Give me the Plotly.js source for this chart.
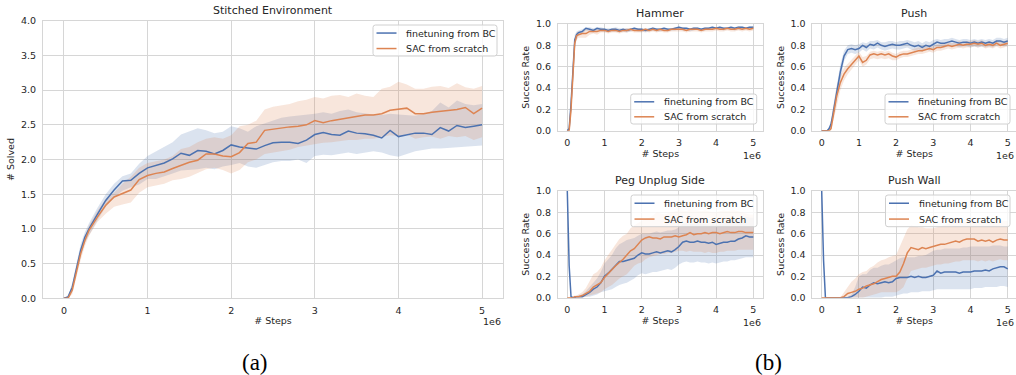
<!DOCTYPE html>
<html>
<head>
<meta charset="utf-8">
<script src="https://cdn.plot.ly/plotly-3.0.1.min.js"></script>
<style>html,body{margin:0;padding:0;background:#fff;} #chart{width:1016px;height:375px;}</style>
</head>
<body>
<div id="chart"></div>
<script>
// ---- data (steps in units of 1e6) ----
const steps = [0,0.05,0.1,0.15,0.2,0.25,0.3,0.4,0.5,0.6,0.7,0.8,0.9,1.0,1.1,1.2,1.3,1.4,1.5,1.6,1.7,1.8,1.9,2.0,2.1,2.2,2.3,2.4,2.5,2.6,2.7,2.8,2.9,3.0,3.1,3.2,3.3,3.4,3.5,3.6,3.7,3.8,3.9,4.0,4.1,4.2,4.3,4.4,4.5,4.6,4.7,4.8,4.9,5.0];
const seriesNames = ["finetuning from BC", "SAC from scratch"];

// Stitched Environment (# Solved)
const stitchedBC = [0,0.02,0.16,0.45,0.69,0.88,1.00,1.21,1.41,1.56,1.69,1.70,1.80,1.88,1.92,1.95,2.01,2.09,2.06,2.13,2.12,2.08,2.13,2.21,2.18,2.17,2.15,2.20,2.24,2.25,2.25,2.23,2.28,2.36,2.39,2.36,2.35,2.41,2.38,2.37,2.35,2.31,2.42,2.33,2.36,2.38,2.38,2.36,2.46,2.41,2.49,2.46,2.48,2.50];
const stitchedBCUp = [0,0.04,0.22,0.52,0.78,0.95,1.08,1.30,1.50,1.65,1.76,1.80,1.94,2.05,2.12,2.18,2.25,2.36,2.40,2.45,2.42,2.38,2.40,2.48,2.45,2.40,2.48,2.52,2.56,2.60,2.62,2.63,2.64,2.66,2.68,2.66,2.70,2.72,2.68,2.66,2.65,2.64,2.66,2.65,2.64,2.63,2.66,2.70,2.82,2.75,2.85,2.80,2.78,2.80];
const stitchedBCLo = [0,0,0.10,0.38,0.60,0.80,0.92,1.12,1.32,1.45,1.55,1.60,1.64,1.72,1.72,1.76,1.80,1.84,1.85,1.86,1.88,1.86,1.90,1.92,1.95,1.90,1.88,1.92,1.96,1.98,1.98,2.00,1.95,2.05,2.07,2.06,2.08,2.10,2.08,2.10,2.12,2.10,2.06,2.04,2.08,2.12,2.14,2.16,2.16,2.17,2.18,2.18,2.19,2.20];
const stitchedSAC = [0,0,0.12,0.40,0.64,0.83,0.98,1.17,1.34,1.46,1.51,1.56,1.71,1.77,1.80,1.82,1.87,1.92,1.96,1.99,2.08,2.08,2.05,2.04,2.10,2.23,2.25,2.42,2.44,2.45,2.47,2.48,2.50,2.56,2.53,2.56,2.58,2.60,2.62,2.64,2.64,2.66,2.71,2.72,2.74,2.66,2.66,2.68,2.69,2.70,2.72,2.75,2.66,2.74];
const stitchedSACUp = [0,0.03,0.18,0.48,0.72,0.90,1.05,1.26,1.43,1.52,1.65,1.75,1.88,1.95,1.98,2.00,2.05,2.15,2.18,2.25,2.30,2.32,2.30,2.35,2.48,2.50,2.56,2.72,2.76,2.78,2.80,2.84,2.86,2.90,2.88,2.92,2.93,2.90,2.95,2.92,2.90,3.02,3.05,3.12,3.08,3.02,3.02,3.05,3.06,3.03,3.10,3.04,3.02,3.06];
const stitchedSACLo = [0,0,0.06,0.32,0.55,0.75,0.90,1.10,1.22,1.32,1.35,1.38,1.52,1.60,1.62,1.65,1.70,1.72,1.75,1.80,1.86,1.88,1.85,1.80,1.85,1.96,2.00,2.08,2.10,2.12,2.14,2.18,2.20,2.22,2.24,2.25,2.26,2.28,2.28,2.30,2.30,2.33,2.35,2.34,2.36,2.30,2.32,2.33,2.30,2.34,2.32,2.34,2.28,2.32];

// Hammer (success rate)
const hammerBC = [0,0.02,0.25,0.60,0.85,0.90,0.92,0.93,0.96,0.95,0.94,0.96,0.95,0.95,0.94,0.95,0.95,0.94,0.95,0.94,0.95,0.96,0.95,0.95,0.94,0.95,0.96,0.95,0.95,0.96,0.95,0.95,0.96,0.97,0.96,0.96,0.95,0.96,0.96,0.95,0.96,0.96,0.97,0.96,0.97,0.96,0.96,0.97,0.96,0.97,0.97,0.96,0.97,0.97];
const hammerBCUp = [0,0.04,0.32,0.68,0.90,0.93,0.94,0.95,0.97,0.97,0.96,0.97,0.97,0.96,0.96,0.96,0.97,0.96,0.96,0.96,0.96,0.97,0.96,0.96,0.96,0.96,0.97,0.96,0.96,0.97,0.96,0.96,0.97,0.98,0.97,0.97,0.96,0.97,0.97,0.96,0.97,0.97,0.98,0.97,0.98,0.97,0.97,0.98,0.97,0.98,0.98,0.97,0.98,0.98];
const hammerBCLo = [0,0,0.18,0.52,0.80,0.86,0.89,0.91,0.94,0.93,0.92,0.94,0.93,0.93,0.92,0.93,0.93,0.92,0.93,0.92,0.93,0.94,0.93,0.93,0.92,0.93,0.94,0.93,0.93,0.94,0.93,0.94,0.94,0.95,0.94,0.94,0.93,0.94,0.95,0.94,0.94,0.95,0.95,0.95,0.95,0.94,0.95,0.95,0.94,0.95,0.95,0.95,0.95,0.95];
const hammerSAC = [0,0,0.20,0.55,0.82,0.89,0.90,0.91,0.91,0.93,0.93,0.93,0.94,0.94,0.93,0.94,0.94,0.93,0.94,0.94,0.95,0.94,0.94,0.94,0.95,0.94,0.95,0.94,0.95,0.94,0.94,0.95,0.95,0.95,0.95,0.94,0.95,0.95,0.95,0.94,0.95,0.95,0.95,0.96,0.95,0.95,0.96,0.95,0.95,0.96,0.95,0.96,0.95,0.96];
const hammerSACUp = [0,0.02,0.28,0.62,0.86,0.92,0.93,0.94,0.95,0.95,0.95,0.95,0.96,0.95,0.95,0.95,0.96,0.95,0.95,0.96,0.96,0.95,0.96,0.95,0.96,0.95,0.96,0.95,0.96,0.95,0.95,0.96,0.96,0.96,0.96,0.95,0.96,0.96,0.96,0.95,0.96,0.96,0.96,0.97,0.96,0.96,0.97,0.96,0.96,0.97,0.96,0.97,0.96,0.97];
const hammerSACLo = [0,0,0.12,0.48,0.78,0.85,0.87,0.87,0.87,0.90,0.91,0.90,0.92,0.92,0.91,0.92,0.92,0.91,0.92,0.92,0.93,0.92,0.92,0.92,0.93,0.92,0.93,0.92,0.93,0.92,0.92,0.93,0.93,0.93,0.93,0.92,0.93,0.93,0.93,0.92,0.93,0.93,0.93,0.94,0.93,0.93,0.94,0.93,0.93,0.94,0.93,0.94,0.93,0.94];

// Push
const pushBC = [0,0,0,0,0.02,0.06,0.15,0.35,0.55,0.70,0.76,0.77,0.76,0.77,0.80,0.78,0.81,0.80,0.82,0.80,0.79,0.80,0.81,0.80,0.80,0.81,0.82,0.80,0.79,0.80,0.78,0.80,0.79,0.81,0.83,0.82,0.82,0.83,0.84,0.83,0.82,0.83,0.83,0.82,0.83,0.82,0.83,0.82,0.83,0.82,0.84,0.84,0.83,0.84];
const pushBCUp = [0,0,0,0.01,0.04,0.10,0.20,0.42,0.62,0.75,0.80,0.81,0.80,0.81,0.83,0.82,0.84,0.84,0.85,0.83,0.83,0.84,0.84,0.83,0.84,0.84,0.85,0.84,0.83,0.84,0.82,0.84,0.83,0.85,0.86,0.85,0.86,0.86,0.87,0.86,0.85,0.86,0.86,0.85,0.86,0.85,0.86,0.85,0.86,0.85,0.87,0.87,0.86,0.87];
const pushBCLo = [0,0,0,0,0.01,0.03,0.10,0.28,0.48,0.65,0.72,0.73,0.72,0.73,0.76,0.74,0.77,0.76,0.78,0.76,0.75,0.76,0.77,0.76,0.76,0.77,0.78,0.76,0.75,0.76,0.74,0.76,0.75,0.77,0.79,0.78,0.78,0.79,0.80,0.79,0.78,0.79,0.79,0.78,0.79,0.78,0.79,0.78,0.79,0.78,0.80,0.80,0.79,0.80];
const pushSAC = [0,0,0,0,0,0.02,0.12,0.32,0.45,0.53,0.58,0.62,0.67,0.70,0.64,0.66,0.71,0.72,0.71,0.72,0.71,0.72,0.70,0.69,0.71,0.72,0.72,0.73,0.74,0.75,0.75,0.76,0.77,0.76,0.78,0.78,0.79,0.80,0.79,0.80,0.81,0.80,0.81,0.81,0.82,0.81,0.82,0.80,0.81,0.80,0.82,0.80,0.81,0.82];
const pushSACUp = [0,0,0,0.01,0.02,0.06,0.20,0.42,0.52,0.59,0.63,0.67,0.71,0.74,0.69,0.70,0.74,0.75,0.74,0.75,0.74,0.75,0.73,0.72,0.74,0.75,0.75,0.76,0.77,0.78,0.78,0.79,0.80,0.79,0.81,0.81,0.82,0.83,0.82,0.83,0.84,0.83,0.84,0.84,0.85,0.84,0.85,0.83,0.84,0.83,0.85,0.83,0.84,0.85];
const pushSACLo = [0,0,0,0,0,0,0.06,0.22,0.38,0.47,0.53,0.57,0.62,0.66,0.60,0.62,0.67,0.68,0.67,0.68,0.67,0.68,0.66,0.66,0.68,0.69,0.69,0.70,0.71,0.72,0.72,0.73,0.74,0.73,0.75,0.75,0.76,0.77,0.76,0.77,0.78,0.77,0.78,0.78,0.79,0.78,0.79,0.77,0.78,0.77,0.79,0.77,0.78,0.79];

// Peg Unplug Side
const pegBC = [1.0,0.30,0.01,0,0,0.01,0.01,0.01,0.03,0.05,0.08,0.10,0.14,0.20,0.23,0.27,0.31,0.34,0.34,0.35,0.36,0.37,0.40,0.42,0.41,0.41,0.42,0.43,0.42,0.43,0.44,0.43,0.45,0.48,0.52,0.53,0.52,0.52,0.53,0.52,0.52,0.51,0.52,0.50,0.51,0.52,0.52,0.53,0.53,0.55,0.56,0.58,0.57,0.57];
const pegBCUp = [1.0,0.30,0.02,0.01,0.01,0.02,0.02,0.03,0.06,0.10,0.14,0.18,0.24,0.32,0.36,0.40,0.46,0.50,0.52,0.54,0.55,0.56,0.58,0.60,0.60,0.60,0.61,0.62,0.61,0.62,0.63,0.63,0.64,0.66,0.69,0.70,0.69,0.69,0.70,0.69,0.69,0.68,0.69,0.68,0.69,0.70,0.70,0.71,0.72,0.73,0.74,0.76,0.75,0.75];
const pegBCLo = [1.0,0.30,0,0,0,0,0,0,0.01,0.01,0.02,0.03,0.05,0.06,0.07,0.08,0.10,0.12,0.13,0.14,0.16,0.18,0.21,0.23,0.22,0.23,0.24,0.24,0.25,0.26,0.27,0.26,0.28,0.31,0.33,0.34,0.33,0.33,0.34,0.33,0.33,0.32,0.33,0.32,0.33,0.34,0.34,0.35,0.35,0.36,0.37,0.38,0.38,0.38];
const pegSAC = [0,0,0,0,0.01,0.01,0.01,0.02,0.04,0.06,0.10,0.12,0.14,0.19,0.23,0.26,0.30,0.33,0.36,0.40,0.44,0.46,0.50,0.54,0.56,0.57,0.56,0.56,0.55,0.57,0.57,0.57,0.58,0.57,0.58,0.59,0.61,0.59,0.60,0.60,0.61,0.60,0.61,0.61,0.60,0.61,0.62,0.61,0.61,0.62,0.62,0.61,0.61,0.61];
const pegSACUp = [0,0,0,0.01,0.02,0.02,0.03,0.05,0.09,0.15,0.22,0.24,0.28,0.35,0.40,0.45,0.50,0.55,0.58,0.60,0.65,0.68,0.70,0.72,0.74,0.75,0.77,0.80,0.79,0.78,0.79,0.80,0.81,0.82,0.82,0.81,0.83,0.82,0.82,0.81,0.82,0.81,0.80,0.80,0.81,0.82,0.81,0.82,0.82,0.81,0.80,0.79,0.78,0.78];
const pegSACLo = [0,0,0,0,0,0,0,0,0.01,0.02,0.03,0.04,0.05,0.08,0.10,0.12,0.15,0.18,0.20,0.22,0.26,0.30,0.32,0.33,0.36,0.38,0.39,0.40,0.41,0.41,0.42,0.42,0.43,0.44,0.44,0.43,0.44,0.43,0.43,0.43,0.42,0.43,0.42,0.42,0.43,0.43,0.44,0.44,0.44,0.45,0.45,0.45,0.45,0.45];

// Push Wall
const wallBC = [1.0,0.35,0,0,0,0,0,0,0,0,0,0.01,0.03,0.06,0.10,0.09,0.12,0.14,0.13,0.14,0.15,0.14,0.15,0.18,0.19,0.19,0.19,0.20,0.19,0.20,0.19,0.19,0.20,0.21,0.25,0.23,0.24,0.24,0.24,0.24,0.23,0.24,0.24,0.24,0.25,0.25,0.25,0.26,0.25,0.27,0.28,0.29,0.29,0.27];
const wallBCUp = [1.0,0.35,0,0,0,0,0,0,0,0,0.01,0.03,0.10,0.20,0.22,0.22,0.26,0.28,0.28,0.30,0.31,0.31,0.33,0.35,0.37,0.38,0.38,0.38,0.38,0.39,0.39,0.40,0.42,0.44,0.45,0.45,0.46,0.46,0.46,0.46,0.46,0.47,0.47,0.48,0.48,0.48,0.48,0.48,0.48,0.49,0.49,0.49,0.48,0.48];
const wallBCLo = [1.0,0.35,0,0,0,0,0,0,0,0,0,0,0,0,0,0,0,0,0,0,0.01,0.01,0.01,0.02,0.03,0.04,0.04,0.05,0.05,0.05,0.06,0.06,0.06,0.07,0.08,0.08,0.08,0.08,0.08,0.08,0.08,0.08,0.08,0.08,0.09,0.09,0.09,0.10,0.10,0.10,0.10,0.11,0.11,0.10];
const wallSAC = [0,0,0,0,0,0,0,0,0,0.01,0.04,0.05,0.06,0.08,0.09,0.11,0.12,0.13,0.15,0.17,0.18,0.19,0.20,0.20,0.24,0.32,0.42,0.47,0.46,0.45,0.47,0.46,0.47,0.48,0.49,0.50,0.50,0.51,0.52,0.53,0.52,0.54,0.55,0.55,0.55,0.53,0.54,0.53,0.54,0.52,0.54,0.55,0.54,0.54];
const wallSACUp = [0,0,0,0,0,0,0,0,0,0.05,0.10,0.15,0.18,0.22,0.24,0.25,0.28,0.30,0.33,0.35,0.36,0.38,0.39,0.40,0.48,0.56,0.64,0.68,0.67,0.66,0.66,0.65,0.65,0.65,0.66,0.67,0.68,0.69,0.70,0.70,0.71,0.71,0.72,0.72,0.72,0.71,0.72,0.70,0.71,0.70,0.72,0.73,0.72,0.72];
const wallSACLo = [0,0,0,0,0,0,0,0,0,0,0,0,0,0,0,0.01,0.02,0.03,0.04,0.05,0.05,0.05,0.05,0.05,0.07,0.10,0.18,0.25,0.26,0.27,0.28,0.28,0.29,0.30,0.31,0.31,0.32,0.32,0.33,0.34,0.34,0.35,0.35,0.35,0.35,0.34,0.35,0.34,0.35,0.34,0.35,0.36,0.35,0.35];

const panelTitles = ["Stitched Environment", "Hammer", "Push", "Peg Unplug Side", "Push Wall"];
const xTickLabels = ["0","1","2","3","4","5"];
const xTickVals = [0,1,2,3,4,5];

// ---- styling / layout ----
const FONT = "DejaVu Sans";
const TXT = "#262626";
const BLUE = "#4C72B0", ORANGE = "#DD8452";
const BLUE_F = "rgba(76,114,176,0.2)", ORANGE_F = "rgba(221,132,82,0.2)";
const GRID = "#d6d6d6";
const W = 1016, H = 375;
const lineColors = [BLUE, ORANGE];

const panels = [
  {sfx:"",  bc:[stitchedBC,stitchedBCUp,stitchedBCLo], sac:[stitchedSAC,stitchedSACUp,stitchedSACLo]},
  {sfx:"2", bc:[hammerBC,hammerBCUp,hammerBCLo], sac:[hammerSAC,hammerSACUp,hammerSACLo]},
  {sfx:"3", bc:[pushBC,pushBCUp,pushBCLo], sac:[pushSAC,pushSACUp,pushSACLo]},
  {sfx:"4", bc:[pegBC,pegBCUp,pegBCLo], sac:[pegSAC,pegSACUp,pegSACLo]},
  {sfx:"5", bc:[wallBC,wallBCUp,wallBCLo], sac:[wallSAC,wallSACUp,wallSACLo]},
];

// pixel boxes of plot areas [left, right, top, bottom]
const boxes = [
  [43, 503, 20.7, 298.3],
  [558, 762.6, 24, 130.7],
  [812.4, 1016, 24, 130.7],
  [558, 762.6, 191, 297.7],
  [812.4, 1016, 191, 297.7],
];
const xRanges = [[-0.25,5.25],[-0.25,5.25],[-0.25,5.222],[-0.25,5.25],[-0.25,5.222]];
// legend boxes in pixels [left, right, top, bottom]
const legendBoxes = [
  [373, 497, 25, 56],
  [630.7, 756.7, 94, 124],
  [885, 1010, 94, 124],
  [631, 757, 195, 226.7],
  [885.5, 1010, 195, 226.7],
];

const traces = [];
const revSteps = steps.slice().reverse();
panels.forEach((p, i) => {
  const xa = "x" + p.sfx, ya = "y" + p.sfx;
  const groups = [[p.bc, BLUE, BLUE_F, seriesNames[0]], [p.sac, ORANGE, ORANGE_F, seriesNames[1]]];
  groups.forEach(([d, c, f, name]) => {
    traces.push({
      x: steps.concat(revSteps), y: d[1].concat(d[2].slice().reverse()),
      xaxis: xa, yaxis: ya, type: "scatter", mode: "lines", fill: "toself",
      fillcolor: f, line: {width: 0, color: f}, hoverinfo: "skip", showlegend: false
    });
  });
  groups.forEach(([d, c, f, name]) => {
    traces.push({
      x: steps, y: d[0], xaxis: xa, yaxis: ya, type: "scatter", mode: "lines",
      name: name, line: {color: c, width: 1.5}, showlegend: false
    });
  });
});

const layout = {
  width: W, height: H,
  margin: {l: 0, r: 0, t: 0, b: 0},
  paper_bgcolor: "#fff", plot_bgcolor: "#fff",
  font: {family: FONT, size: 9.5, color: TXT},
  showlegend: false,
  annotations: [], shapes: []
};

const px = v => v / W, py = v => 1 - v / H;

panels.forEach((p, i) => {
  const [l, r, t, b] = boxes[i];
  const main = i === 0;
  layout["xaxis" + p.sfx] = {
    domain: [l / W, Math.min(1, r / W)], range: xRanges[i], anchor: "y" + p.sfx,
    tickvals: xTickVals, ticktext: xTickLabels,
    showgrid: true, gridcolor: GRID, gridwidth: 1, zeroline: false,
    showline: true, mirror: true, linecolor: GRID, linewidth: 1,
    ticks: "outside", ticklen: 3, tickcolor: "rgba(0,0,0,0)",
    tickfont: {family: FONT, size: 9.5, color: TXT},
    title: {text: "# Steps", font: {family: FONT, size: 9.5, color: TXT}, standoff: 2},
    fixedrange: true
  };
  layout["yaxis" + p.sfx] = {
    domain: [1 - b / H, 1 - t / H], range: main ? [0, 4] : [0, 1], anchor: "x" + p.sfx,
    dtick: main ? 0.5 : 0.2, tick0: 0, tickformat: ".1f",
    showgrid: true, gridcolor: GRID, gridwidth: 1, zeroline: false,
    showline: true, mirror: true, linecolor: GRID, linewidth: 1,
    ticks: "outside", ticklen: 4, tickcolor: "rgba(0,0,0,0)",
    tickfont: {family: FONT, size: 9.5, color: TXT},
    title: {text: main ? "# Solved" : "Success Rate", font: {family: FONT, size: 9.5, color: TXT}, standoff: 4},
    fixedrange: true
  };

  // legend box (rounded frame, 80% opaque white like matplotlib)
  const [L, R, T, B] = legendBoxes[i];
  const rr = 2.5;
  const pth = `M ${px(L + rr)},${py(T)} L ${px(R - rr)},${py(T)} Q ${px(R)},${py(T)} ${px(R)},${py(T + rr)} ` +
              `L ${px(R)},${py(B - rr)} Q ${px(R)},${py(B)} ${px(R - rr)},${py(B)} ` +
              `L ${px(L + rr)},${py(B)} Q ${px(L)},${py(B)} ${px(L)},${py(B - rr)} ` +
              `L ${px(L)},${py(T + rr)} Q ${px(L)},${py(T)} ${px(L + rr)},${py(T)} Z`;
  layout.shapes.push({type: "path", xref: "paper", yref: "paper", path: pth,
    fillcolor: "rgba(255,255,255,0.8)", line: {color: "#d0d0d0", width: 1}, layer: "above"});
  const rowH = (B - T) / 2;
  seriesNames.forEach((nm, k) => {
    const yc = T + rowH * (k + 0.5) + 0.3;
    layout.shapes.push({type: "line", xref: "paper", yref: "paper",
      x0: px(L + 3.5), x1: px(L + 23.5), y0: py(yc), y1: py(yc),
      line: {color: lineColors[k], width: 1.5}, layer: "above"});
    layout.annotations.push({text: nm, xref: "paper", yref: "paper",
      x: px(L + 31), y: py(yc), xanchor: "left", yanchor: "middle", showarrow: false,
      font: {family: FONT, size: 9.5, color: TXT}});
  });

  // panel title
  layout.annotations.push({
    text: panelTitles[i], xref: "paper", yref: "paper",
    x: ((l + Math.min(r, 1017)) / 2) / W, y: 1 - (t - 10.5) / H,
    xanchor: "center", yanchor: "middle", showarrow: false,
    font: {family: FONT, size: 11, color: TXT}
  });
  // offset multiplier label
  layout.annotations.push({
    text: "1e6", xref: "paper", yref: "paper",
    x: Math.min(r, W) / W, y: 1 - (b + (main ? 23 : 24.5)) / H,
    xanchor: "right", yanchor: "middle", showarrow: false,
    font: {family: FONT, size: 9.5, color: TXT}
  });
});

// figure captions
[["(a)", 255], ["(b)", 768]].forEach(([txt, cx]) => {
  layout.annotations.push({
    text: txt, xref: "paper", yref: "paper", x: cx / W, y: 1 - 362 / H,
    xanchor: "center", yanchor: "middle", showarrow: false,
    font: {family: "Liberation Serif", size: 23, color: "#000"}
  });
});

Plotly.newPlot("chart", traces, layout, {staticPlot: true, displayModeBar: false});
</script>
</body>
</html>
